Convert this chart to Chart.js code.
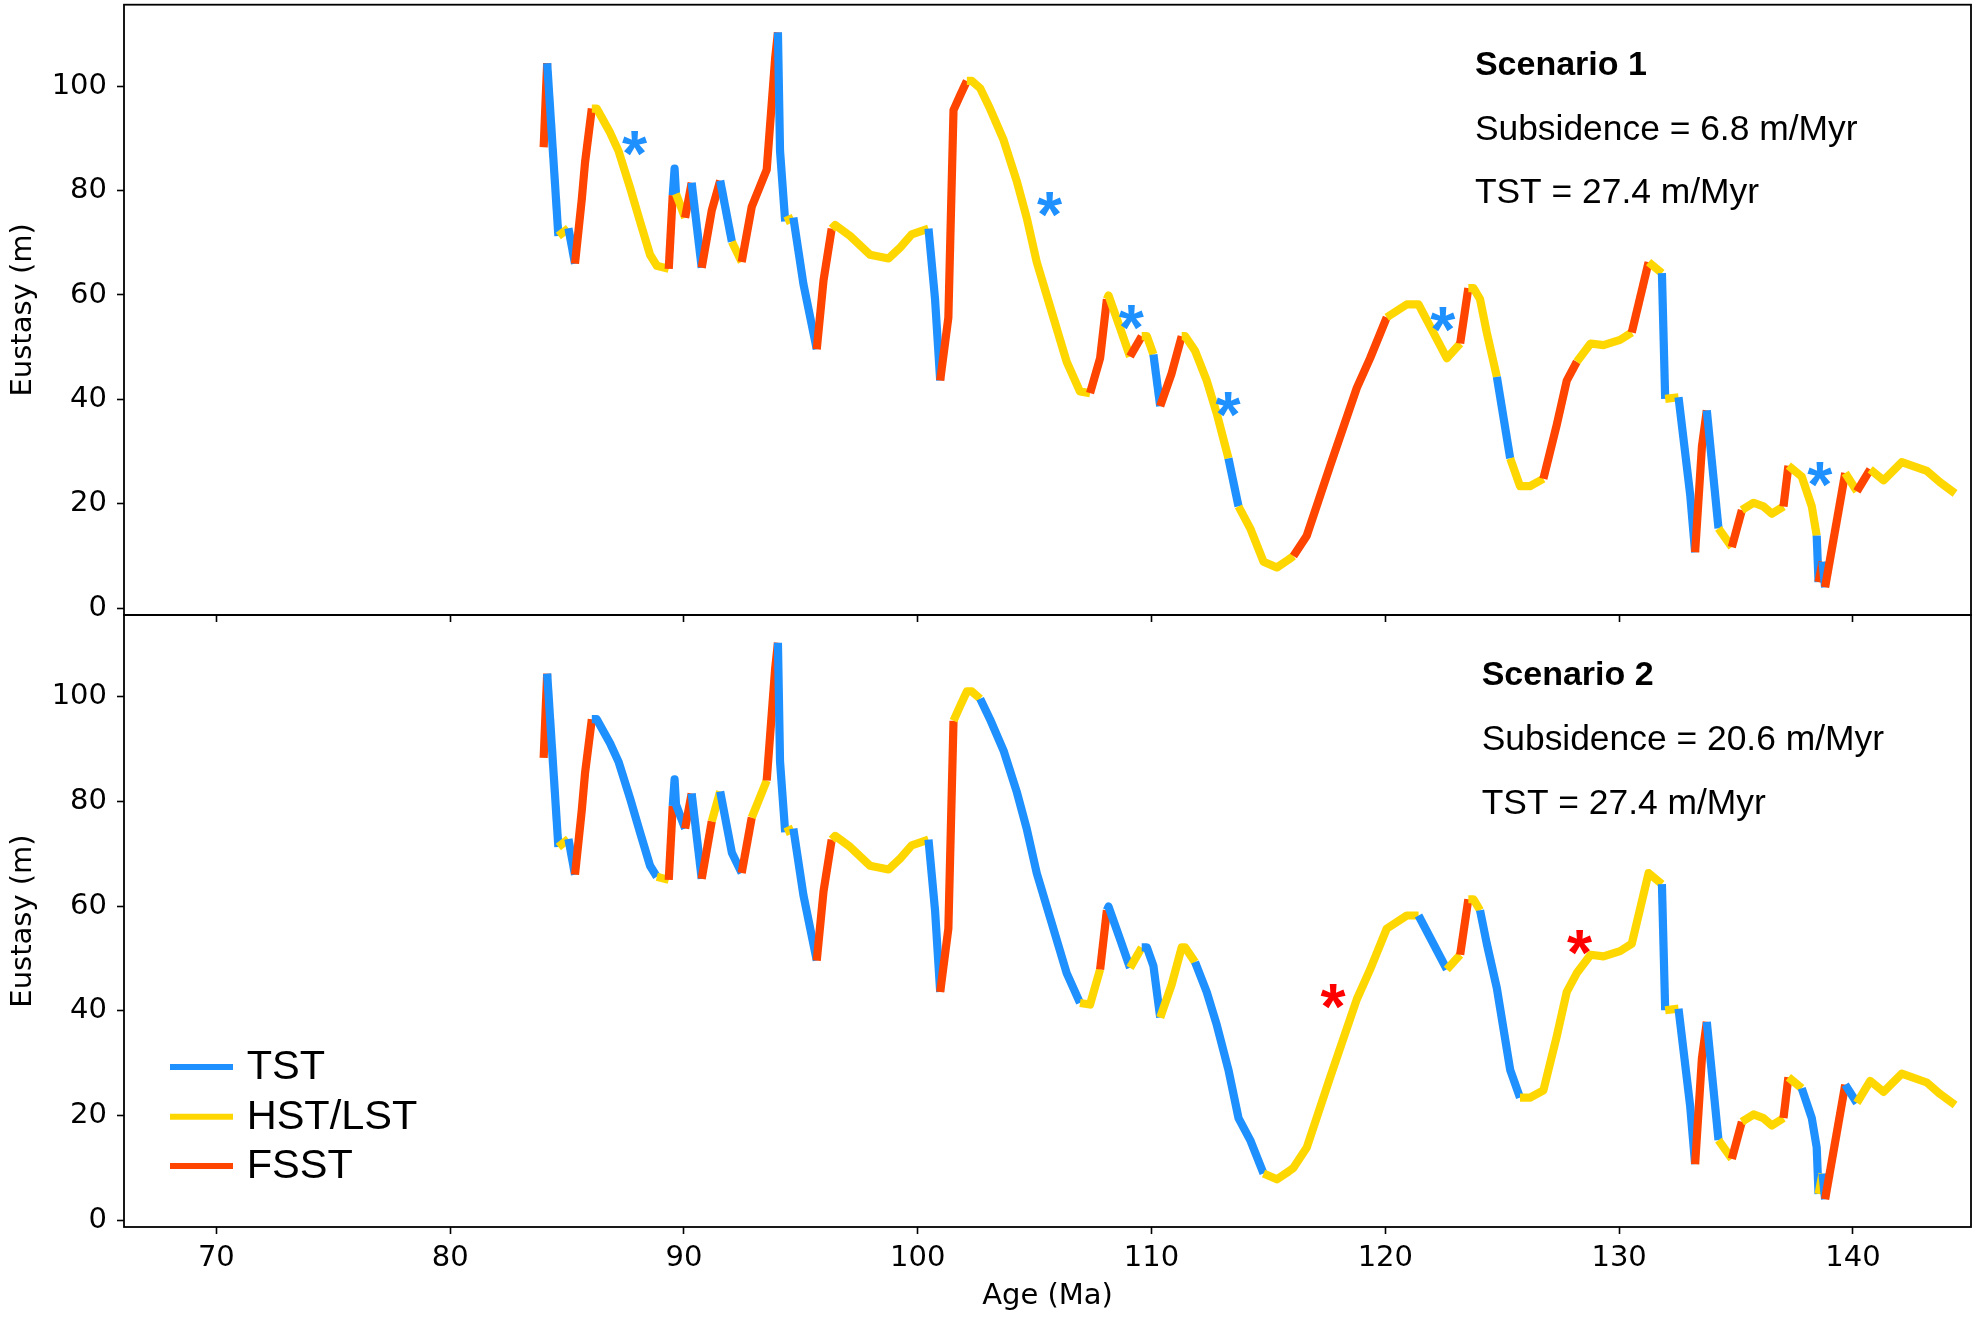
<!DOCTYPE html>
<html><head><meta charset="utf-8">
<script src="https://cdn.jsdelivr.net/npm/chart.js@4.4.1/dist/chart.umd.min.js"></script>
<style>
html,body{margin:0;padding:0;background:#fff;}
#wrap{position:relative;width:1977px;height:1320px;background:#fff;}
canvas{position:absolute;left:0;top:0;}
</style></head><body>
<div id="wrap"><canvas id="cBottom" width="1977" height="1320"></canvas><canvas id="cTop" width="1977" height="1320"></canvas></div>
<script>
// ---- data ----
const ages = [84.00,84.15,84.63,85.06,85.34,85.63,85.77,86.06,86.27,86.84,87.20,87.70,88.12,88.55,88.84,89.35,89.52,89.60,89.66,90.05,
90.33,90.76,91.19,91.55,92.05,92.47,92.90,93.54,93.90,94.02,94.11,94.33,94.68,95.11,95.68,95.97,96.32,96.47,97.11,97.96,
98.75,99.25,99.74,100.46,100.74,100.96,101.31,101.53,101.81,102.10,102.31,102.67,103.09,103.67,104.23,104.66,105.09,105.66,106.37,106.94,
107.37,107.80,108.09,108.16,108.66,109.08,109.58,109.80,110.08,110.37,110.86,111.29,111.44,111.86,112.36,112.79,113.29,113.72,114.22,114.79,
115.36,115.86,116.07,116.64,117.64,118.78,119.35,120.06,120.92,121.42,122.63,123.20,123.55,123.77,124.05,124.34,124.77,125.34,125.76,126.19,
126.76,127.33,127.76,128.19,128.78,129.33,130.04,130.54,131.26,131.83,131.97,132.54,133.04,133.25,133.54,133.75,134.25,134.82,135.25,135.75,
136.17,136.53,137.03,137.24,137.81,138.24,138.45,138.53,138.70,138.81,139.67,140.17,140.74,141.31,142.09,143.16,143.73,144.37];
const eustasy = [88.3,104.4,71.3,72.8,66.0,78.3,85.4,95.7,95.7,91.1,87.6,80.5,74.1,67.7,65.6,65.0,79.1,84.2,79.4,74.8,
81.5,65.2,76.2,81.9,70.2,66.3,76.9,84.0,105.3,110.3,87.6,74.1,74.8,62.1,49.6,62.8,72.7,73.4,71.3,67.7,
67.0,69.1,71.6,72.7,59.2,43.6,55.7,95.4,98.2,101.0,101.0,99.6,95.7,89.7,81.9,74.8,66.3,57.8,47.2,41.5,
41.2,47.9,59.2,59.9,53.6,48.2,52.1,52.1,48.6,38.7,45.0,52.1,52.1,49.3,43.6,37.3,28.7,19.5,15.3,8.9,
7.8,9.3,10.0,13.9,27.3,42.2,47.9,55.7,58.2,58.2,47.9,50.7,61.3,61.3,59.2,52.8,44.3,28.7,23.4,23.4,
24.8,35.1,43.6,47.2,50.7,50.4,51.4,52.8,66.3,64.2,40.1,40.4,21.7,10.7,30.9,37.9,15.3,11.7,18.8,20.2,
19.5,18.1,19.5,27.3,25.2,19.5,13.9,5.0,8.9,4.0,25.9,22.4,26.6,24.5,28.0,26.3,24.1,22.0];
// systems tract of each segment (T = TST, H = HST/LST, F = FSST)
const phasesScenario1 = ("FTHTFFFHHH"+"HHHHHFTTHF"+"TFFTHFFFFT"+"THTTFFHHHH"+"HHHTTFFFFH"+"HHHHHHHHHH"+"FFHHHFHHTF"+
  "FHHHHHTHHH"+"HHFFFFFHHH"+"HFHHHHTHHH"+"FFFHHHHFHT"+"HTTFFTHFHH"+"HHFHHHTFTF"+"HFHHHHH").split('');
const phasesScenario2 = ("FTHTFFFTTT"+"TTTTHFTTTF"+"TFHTTFHFFT"+"THTTFFHHHH"+"HHHTTFFHHH"+"HTTTTTTTTH"+"HFTTTHTTTH"+
  "HHHTTTTTTH"+"HHHHHHHHHT"+"HFHHTTTTHH"+"HHHHHHHHHT"+"HTTFFTHFHH"+"HHFHTTTHTF"+"THHHHHH").split('');
const phaseKeys = ['T','H','F'];
const phaseLabels = ['TST','HST/LST','FSST'];
const phaseColorList = ['#1E90FF','#FFD700','#FF4500'];
const xTicks = [70,80,90,100,110,120,130,140];
const yTicks = [0,20,40,60,80,100];
const starAgesS1 = [87.91,105.66,109.15,113.29,122.48,138.6];
const starEustasyS1 = [89.0,77.3,55.7,39.0,55.3,25.6];
const starAgesS2 = [117.78,128.33];
const starEustasyS2 = [42.8,53.0];
const scenarioTitles = ['Scenario 1','Scenario 2'];
const subsidenceRates = ['6.8','20.6'];
const tstRates = ['27.4','27.4'];
const textAges = [123.83,124.12];

const phaseColors = {};
phaseKeys.forEach((k,i)=>phaseColors[k]=phaseColorList[i]);

const annotPlugin = {
  id:'annot',
  afterDatasetsDraw(chart){
    const o = chart.options.plugins.annot;
    const ctx = chart.ctx, a = chart.chartArea, xs = chart.scales.x, ys = chart.scales.y;
    ctx.save();
    // frame
    ctx.strokeStyle='#000'; ctx.lineWidth=1.8;
    ctx.strokeRect(a.left, a.top, a.right-a.left, a.bottom-a.top);
    // asterisks
    ctx.font='bold 100px "Liberation Sans", Arial, sans-serif';
    let m = ctx.measureText('*');
    const h100 = m.actualBoundingBoxAscent + m.actualBoundingBoxDescent;
    const size = 100*24.5/h100;
    ctx.font='bold '+size+'px "Liberation Sans", Arial, sans-serif';
    m = ctx.measureText('*');
    ctx.textAlign='left'; ctx.textBaseline='alphabetic';
    o.starAges.forEach((ag,i)=>{
      const cx = xs.getPixelForValue(ag), cy = ys.getPixelForValue(o.starVals[i]);
      ctx.fillStyle=o.starColor;
      ctx.fillText('*', cx-(m.actualBoundingBoxRight-m.actualBoundingBoxLeft)/2, cy+(m.actualBoundingBoxAscent-m.actualBoundingBoxDescent)/2);
    });
    // scenario text
    ctx.fillStyle='#000';
    const tx = xs.getPixelForValue(o.textAge);
    ctx.font='bold 34px "Liberation Sans", Arial, sans-serif';
    ctx.fillText(o.title, tx, a.top+70.3);
    ctx.font='35.4px "Liberation Sans", Arial, sans-serif';
    ctx.fillText('Subsidence = '+o.subs+' m/Myr', tx, a.top+135.3);
    ctx.fillText('TST = '+o.tst+' m/Myr', tx, a.top+198.6);
    // legend
    if(o.legend){
      ctx.font='41.5px "Liberation Sans", Arial, sans-serif';
      ctx.textBaseline='middle';
      const offs=[-160,-110.3,-61];
      phaseLabels.forEach((lb,i)=>{
        const y=a.bottom+offs[i];
        ctx.strokeStyle=phaseColorList[i]; ctx.lineWidth=6; ctx.lineCap='butt';
        ctx.beginPath(); ctx.moveTo(a.left+46,y); ctx.lineTo(a.left+109,y); ctx.stroke();
        ctx.fillStyle='#000';
        ctx.fillText(lb, a.left+122.7, y+1);
      });
    }
    ctx.restore();
  }
};

function makeChart(id, phases, cfg){
  const pts = ages.map((a,i)=>({x:a,y:eustasy[i]}));
  return new Chart(document.getElementById(id),{
    type:'line',
    data:{datasets:[{data:pts, borderWidth:8.2, pointRadius:0, pointHoverRadius:0, tension:0,
      borderCapStyle:'butt', borderJoinStyle:'round', borderColor:phaseColors.H, fill:false,
      segment:{borderColor: c => phaseColors[phases[c.p0DataIndex]]}}]},
    options:{
      responsive:false, animation:false, devicePixelRatio:1, events:[],
      layout:{autoPadding:false, padding:{left:0,right:6,top:cfg.padTop,bottom:cfg.padBottom}},
      plugins:{legend:{display:false}, tooltip:{enabled:false},
        annot:{starAges:cfg.starAges, starVals:cfg.starVals, starColor:cfg.starColor, textAge:cfg.textAge,
          title:cfg.title, subs:cfg.subs, tst:cfg.tst, legend:cfg.legend}},
      scales:{
        x:{type:'linear', position:'bottom', min:66.05, max:145.05,
          afterBuildTicks:s=>{s.ticks=xTicks.map(v=>({value:v}));},
          afterFit:s=>{s.height=cfg.xHeight; s.paddingLeft=0; s.paddingRight=0;},
          grid:{display:true, drawOnChartArea:false, drawTicks:true, tickLength:7, tickWidth:1.6, tickColor:'#000'},
          border:{display:false},
          ticks:{display:cfg.showX, callback:v=>String(v), font:{family:'DejaVu Sans', size:29}, color:'#000', padding:7, maxRotation:0, autoSkip:false},
          title:{display:cfg.showX, text:'Age (Ma)', font:{family:'DejaVu Sans', size:29}, color:'#000', padding:{top:0,bottom:6}}},
        y:{type:'linear', position:'left', min:-1.3, max:115.6,
          afterBuildTicks:s=>{s.ticks=yTicks.map(v=>({value:v}));},
          afterFit:s=>{s.width=124; s.paddingTop=0; s.paddingBottom=0;},
          grid:{display:true, drawOnChartArea:false, drawTicks:true, tickLength:7, tickWidth:1.6, tickColor:'#000'},
          border:{display:false},
          ticks:{callback:v=>String(v), font:{family:'DejaVu Sans', size:29}, color:'#000', padding:10, autoSkip:false},
          title:{display:true, text:'Eustasy (m)', font:{family:'DejaVu Sans', size:29}, color:'#000', padding:{top:6,bottom:0}}}
      }
    },
    plugins:[annotPlugin]
  });
}

makeChart('cBottom', phasesScenario2, {padTop:615, padBottom:0, xHeight:93, showX:true,
  starAges:starAgesS2, starVals:starEustasyS2, starColor:'#FF0000', textAge:textAges[1],
  title:scenarioTitles[1], subs:subsidenceRates[1], tst:tstRates[1], legend:true});
makeChart('cTop', phasesScenario1, {padTop:4.7, padBottom:698, xHeight:7, showX:false,
  starAges:starAgesS1, starVals:starEustasyS1, starColor:'#1E90FF', textAge:textAges[0],
  title:scenarioTitles[0], subs:subsidenceRates[0], tst:tstRates[0], legend:false});
</script>
</body></html>
